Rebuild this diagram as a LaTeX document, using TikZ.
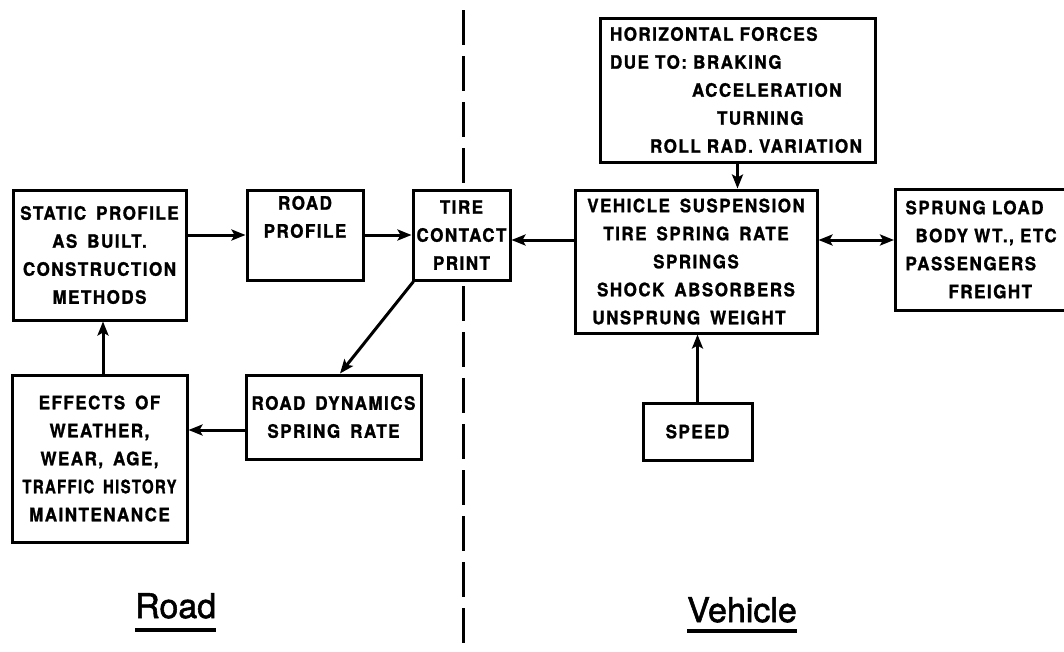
\documentclass[tikz,border=0pt]{standalone}
\usepackage{fontspec}
\usepackage{graphicx}
\newfontfamily\lettering[LetterSpace=8,WordSpace=1.6,FakeStretch=0.92,FakeBold=1.2]{TeX Gyre Heros Bold}
\newfontfamily\labelfont[FakeBold=1.6]{TeX Gyre Heros}
\usetikzlibrary{arrows.meta}
\begin{document}
\begin{tikzpicture}[x=1pt,y=-1pt,
  box/.style={draw, line width=3pt, fill=white, inner sep=0pt, align=center,
    font=\lettering\fontsize{18.5}{28}\selectfont},
  conn/.style={line width=3pt, -{Stealth[length=14pt,width=11pt,inset=3pt]}},
  dconn/.style={line width=3pt, {Stealth[length=14pt,width=11pt,inset=3pt]}-{Stealth[length=14pt,width=11pt,inset=3pt]}},
  divider/.style={line width=3pt, dash pattern=on 35pt off 11pt},
  lbl/.style={inner sep=0pt, font=\labelfont\fontsize{34}{40}\selectfont},
  uline/.style={line width=3.5pt}
]
\useasboundingbox (0,0) rectangle (1064,651);
\clip (0,0) rectangle (1064,651);

% divider
\coordinate (dtop) at (463,10);
\coordinate (dbot) at (463,651);
\draw[divider] (dtop) -- (dbot);

% boxes
\node[box, minimum width=173pt, minimum height=130pt] (static) at (99.5,255)
  {STATIC PROFILE\\AS BUILT.\\CONSTRUCTION\\METHODS};
\node[box, minimum width=116pt, minimum height=90pt] (roadp) at (305,235)
  {ROAD\\PROFILE\\\strut};
\node[box, minimum width=97pt, minimum height=90pt] (tire) at (461.5,235)
  {TIRE\\CONTACT\\PRINT};
\node[box, minimum width=242pt, minimum height=143pt] (susp) at (696,261.5)
  {VEHICLE SUSPENSION\\TIRE SPRING RATE\\SPRINGS\\SHOCK ABSORBERS\hspace*{26pt}\\UNSPRUNG WEIGHT\hspace*{14pt}};
\node[box, align=left, text width=160pt, inner xsep=10pt, minimum height=121pt, anchor=west] (sprung) at (894,249.5)
  {SPRUNG LOAD\\\hspace*{10pt}BODY WT., ETC\\PASSENGERS\\\hspace*{43pt}FREIGHT};
\node[box, align=left, text width=255pt, inner xsep=10pt, minimum height=144pt] (hf) at (737.5,90)
  {HORIZONTAL FORCES\\DUE TO: BRAKING\\\hspace*{82pt}ACCELERATION\\\hspace*{107pt}TURNING\\\hspace*{40pt}ROLL RAD. VARIATION};
\node[box, minimum width=175pt, minimum height=167pt] (effects) at (99.5,458.5)
  {EFFECTS OF\\WEATHER,\\WEAR, AGE,\\\scalebox{0.88}[1]{TRAFFIC HISTORY}\\MAINTENANCE};
\node[box, minimum width=175pt, minimum height=84pt] (dyn) at (333.5,417)
  {ROAD DYNAMICS\\SPRING RATE};
\node[box, minimum width=109pt, minimum height=57pt] (speed) at (697.5,431.5)
  {SPEED};

% connectors
\draw[conn] (static.east |- roadp.west) -- (roadp.west);
\draw[conn] (roadp.east) -- (tire.west);
\draw[conn] ([yshift=-5pt]susp.west |- tire.east) -- ([yshift=-5pt]tire.east);
\draw[dconn] ([yshift=-5pt]susp.east |- tire.east) -- ([yshift=-5pt]sprung.west |- tire.east);
\draw[conn] (hf.south) -- (hf.south |- susp.north);
\draw[conn] (speed.north) -- (speed.north |- susp.south);
\draw[conn] ([xshift=2pt]tire.south west) -- ([xshift=6.5pt]dyn.north);
\draw[conn] ([yshift=-13pt]dyn.west) -- ([yshift=-13pt]dyn.west -| effects.east);
\draw[conn] ([xshift=3.5pt]effects.north) -- ([xshift=3.5pt]effects.north |- static.south);

% labels
\node[lbl, anchor=base west] (road) at (135,618) {Road};
\draw[uline] ([yshift=-12pt]road.base west) -- ([yshift=-12pt]road.base east);
\node[lbl, anchor=base west] (veh) at (687,622) {Vehicle};
\draw[uline] ([yshift=-9pt]veh.base west) -- ([yshift=-9pt]veh.base east);
\end{tikzpicture}
\end{document}
